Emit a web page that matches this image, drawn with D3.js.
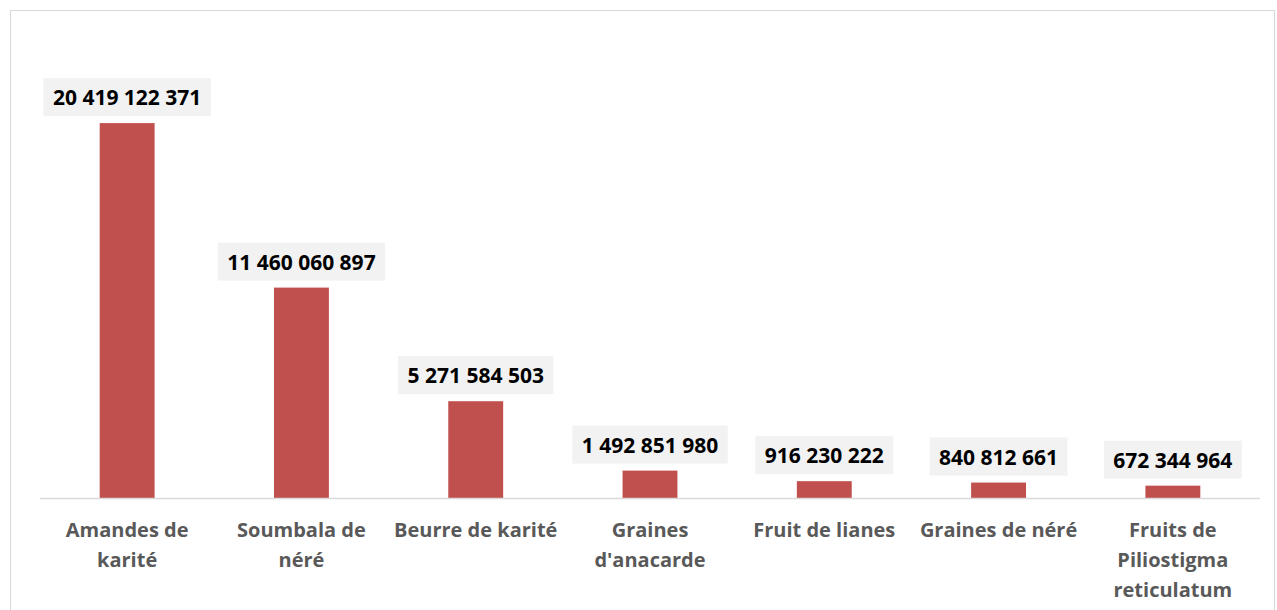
<!DOCTYPE html>
<html>
<head>
<meta charset="utf-8">
<script src="https://cdn.jsdelivr.net/npm/d3@7"></script>
<style>
  body { margin: 0; background: #fff; }
  svg { display: block; font-family: "Open Sans", "Liberation Sans", sans-serif; }
</style>
</head>
<body>
<svg id="svg" width="1277" height="610"></svg>
<script>
// categories and values
const categories = ["Amandes de karité", "Soumbala de néré", "Beurre de karité", "Graines d'anacarde",
                    "Fruit de lianes", "Graines de néré", "Fruits de Piliostigma reticulatum"];
const categoryLines = [["Amandes de", "karité"], ["Soumbala de", "néré"], ["Beurre de karité"],
                       ["Graines", "d'anacarde"], ["Fruit de lianes"], ["Graines de néré"],
                       ["Fruits de", "Piliostigma", "reticulatum"]];
const values = [20419122371, 11460060897, 5271584503, 1492851980, 916230222, 840812661, 672344964];
const yMax = 25000000000;

const svg = d3.select("#svg");
const W = 1277, H = 610;
const plotLeft = 40, plotRight = 1260, plotTop = 39, base = 498;

// chart frame
svg.append("rect")
   .attr("x", 10.5).attr("y", 10.5)
   .attr("width", W - 13).attr("height", H + 20)
   .attr("fill", "#fff").attr("stroke", "#d9d9d9").attr("stroke-width", 1);

const x = d3.scaleBand().domain(categories).range([plotLeft, plotRight]).paddingInner(0.685).paddingOuter(0.3425);
const y = d3.scaleLinear().domain([0, yMax]).range([base, plotTop]);

const fmt = v => d3.format(",")(v).replace(/,/g, " ");

// bars
svg.selectAll(".bar").data(categories).enter().append("rect")
   .attr("class", "bar")
   .attr("x", d => x(d))
   .attr("y", (d, i) => y(values[i]))
   .attr("width", x.bandwidth())
   .attr("height", (d, i) => base - y(values[i]))
   .attr("fill", "#c0504d");

// axis line
svg.append("line")
   .attr("x1", plotLeft).attr("x2", plotRight)
   .attr("y1", base + 0.5).attr("y2", base + 0.5)
   .attr("stroke", "#d9d9d9").attr("stroke-width", 1.3);

// value labels with grey boxes
const lab = svg.selectAll(".lab").data(categories).enter().append("g").attr("class", "lab");
lab.each(function(d, i) {
  const g = d3.select(this);
  const cx = x(d) + x.bandwidth() / 2;
  const by = y(values[i]) - 7;
  const t = g.append("text")
     .attr("x", cx).attr("y", by - 11)
     .attr("text-anchor", "middle")
     .attr("font-size", 21).attr("font-weight", "bold").attr("fill", "#000")
     .text(fmt(values[i]));
  const w = t.node().getComputedTextLength();
  g.insert("rect", "text")
   .attr("x", cx - w / 2 - 9.5).attr("y", by - 38)
   .attr("width", w + 19).attr("height", 38)
   .attr("fill", "#f2f2f2");
});

// category labels
svg.selectAll(".cat").data(categories).enter().append("text")
   .attr("class", "cat")
   .attr("text-anchor", "middle")
   .attr("font-size", 20).attr("font-weight", "bold").attr("fill", "#595959")
   .each(function(d, i) {
     const cx = x(d) + x.bandwidth() / 2;
     d3.select(this).selectAll("tspan").data(categoryLines[i]).enter().append("tspan")
       .attr("x", cx).attr("y", (l, j) => 537 + j * 30)
       .text(l => l);
   });
</script>
</body>
</html>
